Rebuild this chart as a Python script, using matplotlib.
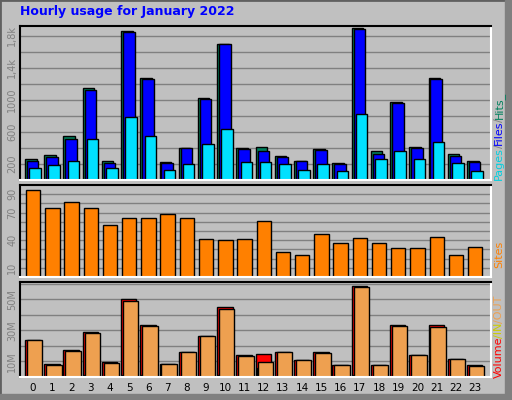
import matplotlib
matplotlib.use("Agg")
import matplotlib.pyplot as plt
from matplotlib.patches import Rectangle
import numpy as np

hours = list(range(24))
hits  = [258,308,546,1146,233,1858,1271,221,396,1021,1700,400,408,300,233,383,208,1896,358,975,408,1271,321,233]
files = [233,283,508,1121,217,1846,1258,208,396,1008,1696,383,358,283,233,371,196,1883,321,958,396,1258,296,221]
pages = [146,183,233,508,146,783,546,121,196,446,633,221,221,196,121,196,108,821,258,358,258,471,208,108]
sites = [95,75,81,75,57,64,64,68,64,41,40,41,61,27,24,47,37,42,37,31,32,44,24,33]
volume = [24,8.1,17.1,28.7,9.4,50.2,33.2,8.1,15.8,26.1,44.8,13.9,14.5,15.8,10.6,15.8,7.4,58.4,7.4,33.2,13.9,33.2,11.3,7.4]
vin   = [0.5,0.3,0.4,1.0,0.3,1.2,1.0,0.3,0.4,0.5,1.2,0.4,5.9,0.4,0.3,0.4,0.3,1.2,0.3,0.6,0.4,1.0,0.3,0.3]
vout  = [24,7.4,16.5,28,8.7,48.7,32.6,8.1,15.8,26.1,43.5,13.2,9.4,15.8,10.6,15.2,7.4,57.7,7.4,32.6,13.9,31.9,11.3,6.8]

W, H = 512, 400
fig = plt.figure(figsize=(W/100, H/100), dpi=100)
fig.patch.set_facecolor('#C0C0C0')
fig.add_artist(Rectangle((0, 0), 1, 1, transform=fig.transFigure, fill=False, ec='#606060', lw=2))
fig.add_artist(Rectangle((505/W, 0), 7/W, 1, transform=fig.transFigure, color='#808080'))
fig.add_artist(Rectangle((0, 0), 1, 6/H, transform=fig.transFigure, color='#808080'))

def ax_at(top, bottom, left=20, right=491):
    return fig.add_axes([left/W, 1-bottom/H, (right-left)/W, (bottom-top)/H])

x = np.array(hours)
gray = '#808080'
def style(ax, ylim, ticks, labels, grid):
    ax.set_facecolor('#C0C0C0')
    ax.set_xlim(-0.68, 23.83)
    ax.set_ylim(*ylim)
    for g in grid:
        ax.axhline(g, color='#808080', lw=1, zorder=0)
    ax.set_yticks(ticks)
    ax.set_yticklabels(labels, rotation=90, va='center', color=gray, fontsize=7)
    ax.tick_params(axis='y', length=0, pad=2)
    ax.tick_params(axis='x', length=0)
    ax.spines['left'].set_color('black'); ax.spines['top'].set_color('black')
    ax.spines['right'].set_color('white'); ax.spines['bottom'].set_color('white')
    for s in ax.spines.values(): s.set_linewidth(1.5)

ek = dict(edgecolor='black', linewidth=1, align='edge')
a1 = ax_at(26, 180)
style(a1, (0, 1925), [200,600,1000,1400,1800], ['200','600','1000','1,4k','1,8k'], range(200,1900,200))
a1.bar(x-0.42, hits, 0.6, color='#00805C', **ek)
a1.bar(x-0.32, files, 0.6, color='#0000FF', **ek)
a1.bar(x-0.20, pages, 0.6, color='#00E0FF', **ek)
a1.set_xticks([])

a2 = ax_at(185, 277)
style(a2, (0, 100), [10,40,70,90], ['10','40','70','90'], range(10,100,10))
a2.bar(x-0.37, sites, 0.75, color='#FF8000', **ek)
a2.set_xticks([])

a3 = ax_at(282, 377)
style(a3, (0, 61), [10,30,50], ['10M','30M','50M'], range(10,61,10))
a3.bar(x-0.42, volume, 0.8, color='#FF0000', **ek)
a3.bar(x-0.37, vin, 0.75, color='#CCDD00', **ek)
a3.bar(x-0.32, vout, 0.8, color='#EEA050', **ek)
a3.set_xticks(hours)
a3.set_xticklabels([str(h) for h in hours], fontsize=7.5)
a3.tick_params(axis='x', pad=4)

fig.text(20/W, 1-12/H, 'Hourly usage for January 2022', color='#0000FF',
         fontsize=9, fontweight='bold', va='center', ha='left')

renderer = fig.canvas.get_renderer()
def rstack(parts, ybottom):
    y = 1 - ybottom/H
    for txt, col in parts:
        t = fig.text(499/W, y, txt, rotation=90, color=col, fontsize=8,
                     ha='center', va='bottom')
        bb = t.get_window_extent(renderer)
        y += (bb.height - 1) / H
rstack([('Pages', '#00D0E0'), ('/', gray), ('Files', '#0000FF'), ('/', gray), ('Hits_', '#00805C')], 180)
rstack([('Sites', '#FF8000')], 268)
rstack([('Volume', '#FF0000'), ('/IN', '#CCCC00'), ('/OUT', '#EEA050')], 378)

fig.savefig('out.png', dpi=100, facecolor=fig.get_facecolor())
